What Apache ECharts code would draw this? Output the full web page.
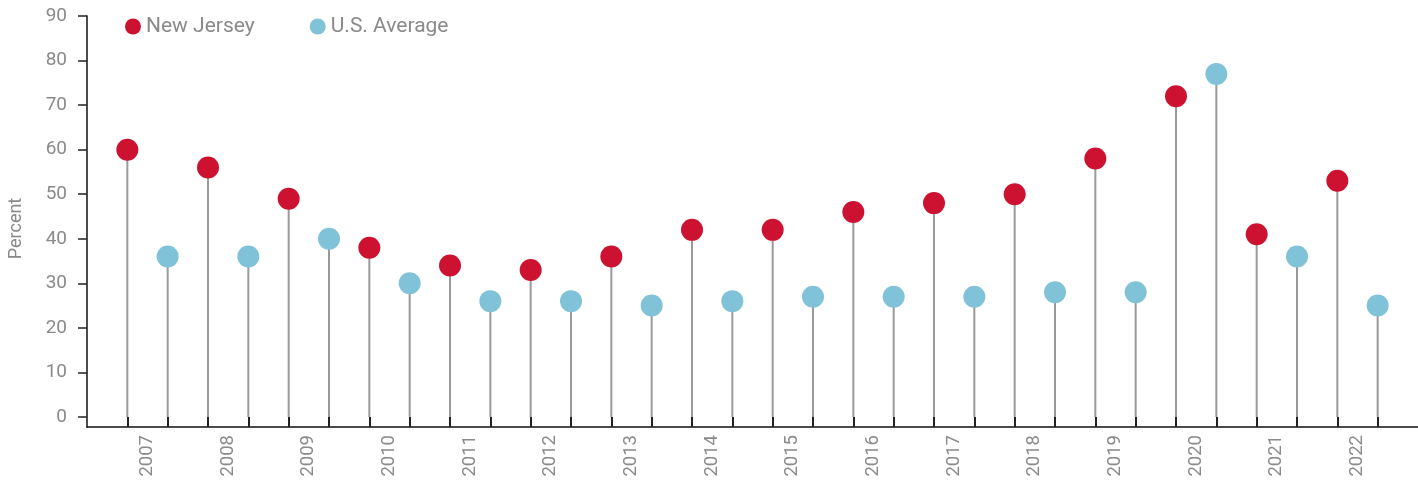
<!DOCTYPE html>
<html>
<head>
<meta charset="utf-8">
<script src="https://cdn.jsdelivr.net/npm/echarts@6/dist/echarts.min.js"></script>
<style>
html,body{margin:0;padding:0;background:#fff;}
#chart{width:1418px;height:482px;}
</style>
</head>
<body>
<div id="chart"></div>
<script>
const years = ['2007','2008','2009','2010','2011','2012','2013','2014','2015','2016','2017','2018','2019','2020','2021','2022'];
const newJersey = [60,56,49,38,34,33,36,42,42,46,48,50,58,72,41,53];
const usAverage = [36,36,40,30,26,26,25,26,27,27,27,28,28,77,36,25];
const yTicks = [0,10,20,30,40,50,60,70,80,90];

const RED = '#CC1230';
const BLUE = '#80C2D7';
const STEM = '#9a9a9a';
const TXT = '#8a8a8a';
const FONT = 'Roboto, "DejaVu Sans", sans-serif';

const njData = newJersey.map((v, i) => [2 * i, v]);
const usData = usAverage.map((v, i) => [2 * i + 1, v]);
const tickPos = [];
for (let i = 0; i < years.length * 2; i++) tickPos.push(i);
const labelPos = years.map((y, i) => 2 * i + 0.5);

const chart = echarts.init(document.getElementById('chart'), null, {renderer: 'canvas'});
chart.setOption({
  animation: false,
  backgroundColor: '#fff',
  textStyle: {fontFamily: FONT},
  grid: {left: 87, top: 16, right: 0, bottom: 55, containLabel: false, outerBoundsMode: 'none'},
  legend: {
    data: ['New Jersey', 'U.S. Average'],
    left: 120, top: 11,
    icon: 'circle', itemWidth: 16, itemHeight: 16, itemGap: 55, itemTextGap: 5,
    textStyle: {color: TXT, fontSize: 21, fontFamily: FONT}
  },
  xAxis: {
    type: 'value', min: -1, max: years.length * 2,
    axisLine: {onZero: false, lineStyle: {color: '#111', width: 1.5}},
    axisTick: {show: true, inside: true, length: 10, customValues: tickPos, lineStyle: {color: '#222', width: 2}},
    axisLabel: {
      customValues: labelPos, rotate: 90, margin: 8,
      color: TXT, fontSize: 18.5, fontFamily: FONT,
      formatter: v => years[Math.round((v - 0.5) / 2)]
    },
    splitLine: {show: false}
  },
  yAxis: {
    type: 'value', min: -2.25, max: 90,
    name: 'Percent', nameLocation: 'middle', nameGap: 62, nameRotate: 90,
    nameTextStyle: {color: TXT, fontSize: 18, fontFamily: FONT, padding: [0, 0, 0, -14]},
    axisLine: {show: true, onZero: false, lineStyle: {color: '#111', width: 1.5}},
    axisTick: {show: true, length: 9, customValues: yTicks, lineStyle: {color: '#222', width: 1.5}},
    axisLabel: {customValues: yTicks, margin: 20, color: TXT, fontSize: 19, fontFamily: FONT},
    splitLine: {show: false}
  },
  series: [
    {name: 'NJ stem', type: 'bar', data: njData, barWidth: 2, barGap: '-100%', itemStyle: {color: STEM}, silent: true},
    {name: 'US stem', type: 'bar', data: usData, barWidth: 2, barGap: '-100%', itemStyle: {color: STEM}, silent: true},
    {name: 'New Jersey', type: 'scatter', data: njData, symbol: 'circle', symbolSize: 22, itemStyle: {color: RED, opacity: 1}, z: 5},
    {name: 'U.S. Average', type: 'scatter', data: usData, symbol: 'circle', symbolSize: 22, itemStyle: {color: BLUE, opacity: 1}, z: 5}
  ]
});
</script>
</body>
</html>
